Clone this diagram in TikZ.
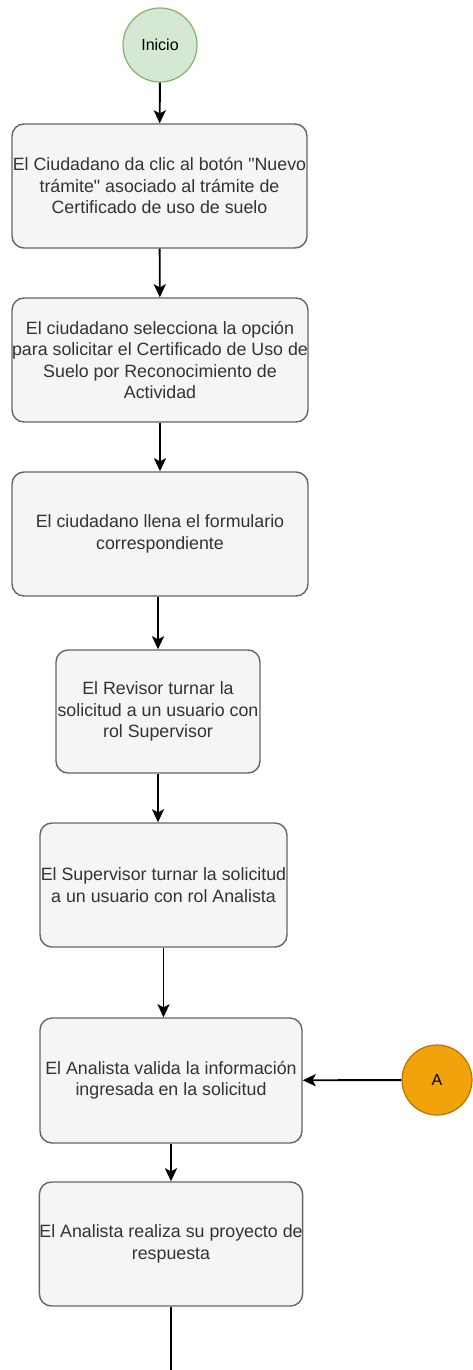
\documentclass[tikz,border=0pt]{standalone}
\usepackage{fontspec}
\setmainfont{Liberation Sans}
\usetikzlibrary{arrows.meta,positioning}

\definecolor{boxfill}{HTML}{F5F5F5}
\definecolor{boxline}{HTML}{666666}
\definecolor{boxtext}{HTML}{333333}
\definecolor{startfill}{HTML}{D5E8D4}
\definecolor{startline}{HTML}{82B366}
\definecolor{linkfill}{HTML}{F0A30A}
\definecolor{linkline}{HTML}{BD7000}

\begin{document}
\begin{tikzpicture}[x=1pt,y=-1pt,>={Stealth[length=13pt,width=12pt,inset=3pt]},
    task/.style={rectangle,rounded corners=12pt,draw=boxline,fill=boxfill,line width=1.4pt,
        text=boxtext,align=center,font=\fontsize{17.8}{21.5}\selectfont,inner sep=0pt},
    start/.style={circle,draw=startline,fill=startfill,line width=1.2pt,minimum size=74pt,
        font=\fontsize{16}{18}\selectfont,inner sep=0pt},
    link/.style={circle,draw=linkline,fill=linkfill,line width=1.2pt,minimum size=70pt,
        font=\fontsize{16}{18}\selectfont,inner sep=0pt},
    flow/.style={->,line width=1.9pt}]

                \useasboundingbox (0,0) rectangle (472,1370);

                \node[start] (inicio) at (160,45) {Inicio};

                \node[task,minimum width=295pt,minimum height=124pt] (s1) at (159.5,186)
                    {El Ciudadano da clic al botón \textquotedbl Nuevo\\trámite\textquotedbl{} asociado al trámite de\\Certificado de uso de suelo};

                \node[task,minimum width=296pt,minimum height=124pt] (s2) at (160,360)
                    {El ciudadano selecciona la opción\\para solicitar el Certificado de Uso de\\Suelo por Reconocimiento de\\Actividad};

                \node[task,minimum width=296pt,minimum height=124pt] (s3) at (160,534)
                    {El ciudadano llena el formulario\\correspondiente};

                \node[task,minimum width=204pt,minimum height=123pt] (s4) at (158,711.5)
                    {El Revisor turnar la\\solicitud a un usuario con\\rol Supervisor};

                \node[task,minimum width=247pt,minimum height=124pt] (s5) at (163.5,885)
                    {El Supervisor turnar la solicitud\\a un usuario con rol Analista};

                \node[task,minimum width=262pt,minimum height=125pt] (s6) at (171,1080.5)
                    {El Analista valida la información\\ingresada en la solicitud};

                \node[task,minimum width=262pt,minimum height=124pt] (s7) at (171,1244)
                    {El Analista realiza su proyecto de\\respuesta};

                \node[link] (a) at (437,1080) {A};

                \coordinate (fin) at (171,1370);

                

                \path[flow] (inicio) edge (s1)

                          (s1) edge (s2)

                          (s2) edge (s3)

                          (s3.south -| s4.north) edge (s4.north)

                          (s4.south) edge (s4.south |- s5.north)

                          (s5.south) edge (s5.south |- s6.north)

                          (s6) edge (s7)

                          (a) edge (s6);

                \draw[line width=1.9pt] (s7) -- (fin);

            \end{tikzpicture}
\end{document}
